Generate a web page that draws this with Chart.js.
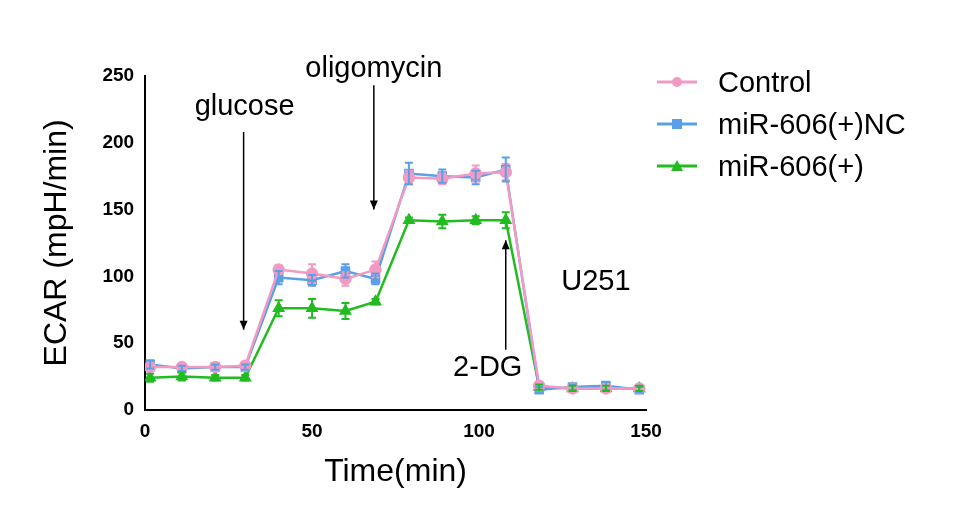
<!DOCTYPE html>
<html><head><script src="https://cdn.jsdelivr.net/npm/chart.js@4"></script>
<style>body{margin:0;background:#fff}#w{width:967px;height:505px}</style></head>
<body><div id="w"><canvas id="c"></canvas></div>
<script>
const times=[1.5,11,21,30,40,50,60,69,79,89,99,108,118,128,138,148];
const control=[32,32,32,33,105,102,98,105,174,173,177,178,18,16,16,16];
const controlErr=[3,2,2,2,3,7,5,6,5,4,6,6,3,2,2,2];
const nc=[34,31,32,32,99,97,104,98,177,175,174,180,15,17,18,15];
const ncErr=[3,2,2,2,5,4,5,4,8,5,5,9,2,2,3,2];
const mir=[24,25,24,24,76,76,74,81,142,141,142,142,17,16,16,16];
const mirErr=[3,3,2,2,6,7,6,2,2,5,3,6,2,2,2,2];
const xTicks=[0,50,100,150];
const yTicks=[0,50,100,150,200,250];
const names=['Control','miR-606(+)NC','miR-606(+)'];
const colors=['#f29ac4','#5aa0e6','#22bb22'];
const shapes=['circle','rect','triangle'];
const vals=[control,nc,mir], errs=[controlErr,ncErr,mirErr];
const font='"Liberation Sans", Arial, sans-serif';
const annots=[
 {t:'glucose',x:29.5,ty:228,y1:208,y2:60},
 {t:'oligomycin',x:68.5,ty:257,y1:243,y2:150},
 {t:'2-DG',x:108,ty:33,y1:45,y2:127},
];
const plug={id:'p',afterDatasetsDraw(ch){
 const c=ch.ctx,xs=ch.scales.x,ys=ch.scales.y;
 c.save();
 vals.forEach((v,i)=>{c.strokeStyle=colors[i];c.lineWidth=2;
  v.forEach((y,j)=>{const px=xs.getPixelForValue(times[j]);const a=ys.getPixelForValue(y+errs[i][j]),b=ys.getPixelForValue(y-errs[i][j]);
   c.beginPath();c.moveTo(px,a);c.lineTo(px,b);c.moveTo(px-4,a);c.lineTo(px+4,a);c.moveTo(px-4,b);c.lineTo(px+4,b);c.stroke();});});
 c.fillStyle='#000';c.strokeStyle='#000';c.lineWidth=1.5;c.font='29px '+font;c.textAlign='center';c.textBaseline='alphabetic';
 annots.forEach(a=>{const px=xs.getPixelForValue(a.x);
  c.fillText(a.t,a.t==='2-DG'?px-18:px+(a.t==='glucose'?1:0),ys.getPixelForValue(a.ty)+10);
  const p1=ys.getPixelForValue(a.y1),p2=ys.getPixelForValue(a.y2);
  c.beginPath();c.moveTo(px,p1);c.lineTo(px,p2);c.stroke();
  const d=p2>p1?1:-1;c.beginPath();c.moveTo(px,p2);c.lineTo(px-4,p2-9*d);c.lineTo(px+4,p2-9*d);c.closePath();c.fill();});
 c.fillText('U251',xs.getPixelForValue(135),ys.getPixelForValue(90));
 c.textAlign='left';c.font='29px '+font;
 names.forEach((n,i)=>{const y=82+i*42;c.strokeStyle=colors[i];c.fillStyle=colors[i];c.lineWidth=3;
  c.beginPath();c.moveTo(657,y);c.lineTo(697,y);c.stroke();
  if(i==0){c.beginPath();c.arc(677,y,5,0,7);c.fill();}
  else if(i==1){c.fillRect(672,y-5,10,10);}
  else{c.beginPath();c.moveTo(677,y-6);c.lineTo(683,y+5);c.lineTo(671,y+5);c.closePath();c.fill();}
  c.fillStyle='#000';c.fillText(n,718,y+10);});
 c.restore();}};
new Chart(document.getElementById('c'),{type:'line',
 data:{datasets:vals.map((v,i)=>({label:names[i],data:v.map((y,j)=>({x:times[j],y})),borderColor:colors[i],backgroundColor:colors[i],borderWidth:2.5,pointStyle:shapes[i],pointRadius:5,tension:0}))},
 options:{responsive:true,maintainAspectRatio:false,animation:false,
  layout:{padding:{left:34,right:321,top:76,bottom:10}},
  plugins:{legend:{display:false},tooltip:{enabled:false}},
  scales:{
   x:{type:'linear',min:0,max:150,afterBuildTicks:s=>{s.ticks=xTicks.map(v=>({value:v}))},grid:{display:false,drawTicks:true,tickLength:7,tickColor:'#000'},border:{color:'#000',width:2},
    ticks:{color:'#000',font:{family:font,size:19,weight:'bold'},padding:4},title:{display:true,text:'Time(min)',color:'#000',font:{family:font,size:32},padding:{top:5}}},
   y:{min:0,max:250,afterBuildTicks:s=>{s.ticks=yTicks.map(v=>({value:v}))},grid:{display:false,drawTicks:true,tickLength:7,tickColor:'#000'},border:{color:'#000',width:2},
    ticks:{color:'#000',font:{family:font,size:19,weight:'bold'},padding:4},title:{display:true,text:'ECAR (mpH/min)',color:'#000',font:{family:font,size:32},padding:{bottom:22}}}}},
 plugins:[plug]});
</script></body></html>
